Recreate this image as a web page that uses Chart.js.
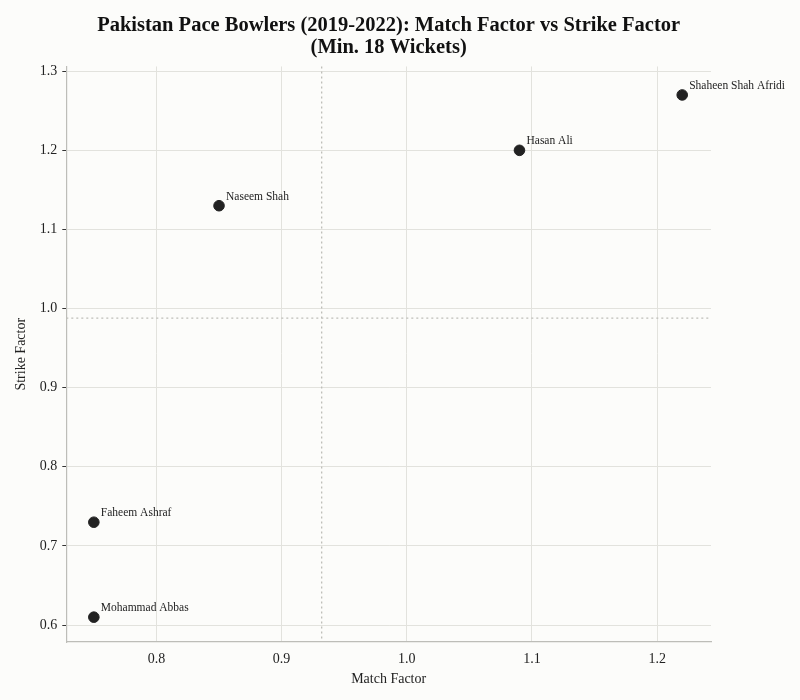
<!DOCTYPE html>
<html>
<head>
<meta charset="utf-8">
<script src="https://cdn.jsdelivr.net/npm/chart.js@4.4.1/dist/chart.umd.min.js"></script>
<style>
  body { margin: 0; background: #fcfcfa; }
  canvas { display: block; }
</style>
</head>
<body>
<canvas id="grafico" width="800" height="700"></canvas>
<script>
const jugadores = ["Shaheen Shah Afridi", "Hasan Ali", "Naseem Shah", "Faheem Ashraf", "Mohammad Abbas"];
const matchFactor = [1.22, 1.09, 0.85, 0.75, 0.75];
const strikeFactor = [1.27, 1.20, 1.13, 0.73, 0.61];
const xTicks = [0.8, 0.9, 1.0, 1.1, 1.2];
const yTicks = [0.6, 0.7, 0.8, 0.9, 1.0, 1.1, 1.2, 1.3];

const fuente = "'Liberation Serif', 'DejaVu Serif', serif";
const promedioX = matchFactor.reduce((a, b) => a + b, 0) / matchFactor.length;
const promedioY = strikeFactor.reduce((a, b) => a + b, 0) / strikeFactor.length;

// lineas punteadas de promedio y etiquetas de cada jugador
const extrasPlugin = {
  id: "extras",
  beforeDatasetsDraw(chart) {
    const { ctx, chartArea, scales } = chart;
    const px = scales.x.getPixelForValue(promedioX);
    const py = scales.y.getPixelForValue(promedioY);
    ctx.save();
    ctx.strokeStyle = "#bdbdb8";
    ctx.lineWidth = 1.3;
    ctx.setLineDash([2, 3]);
    ctx.beginPath();
    ctx.moveTo(px, chartArea.top);
    ctx.lineTo(px, chartArea.bottom);
    ctx.moveTo(chartArea.left, py);
    ctx.lineTo(chartArea.right, py);
    ctx.stroke();
    ctx.restore();
  },
  afterDatasetsDraw(chart) {
    const { ctx, scales } = chart;
    ctx.save();
    ctx.font = "11.5px " + fuente;
    ctx.fillStyle = "#222";
    ctx.textAlign = "left";
    ctx.textBaseline = "middle";
    jugadores.forEach((nombre, i) => {
      const x = scales.x.getPixelForValue(matchFactor[i]);
      const y = scales.y.getPixelForValue(strikeFactor[i]);
      ctx.fillText(nombre, x + 7, y - 9);
    });
    ctx.restore();
  }
};

const puntos = jugadores.map((n, i) => ({ x: matchFactor[i], y: strikeFactor[i] }));

new Chart(document.getElementById("grafico"), {
  type: "scatter",
  data: {
    datasets: [{
      label: "Bowlers",
      data: puntos,
      backgroundColor: "#222",
      borderColor: "#222",
      pointRadius: 5.3,
      pointHoverRadius: 5.3
    }]
  },
  options: {
    responsive: false,
    animation: false,
    layout: { padding: { left: 9, right: 89, top: 12, bottom: 14 } },
    plugins: {
      legend: { display: false },
      tooltip: { enabled: false },
      title: {
        display: true,
        fullSize: false,
        text: ["Pakistan Pace Bowlers (2019-2022): Match Factor vs Strike Factor", "(Min. 18 Wickets)"],
        color: "#111",
        font: { family: fuente, size: 20.5, weight: "bold", lineHeight: 1.06 },
        padding: { top: 3, bottom: 8 }
      }
    },
    scales: {
      x: {
        type: "linear",
        min: 0.728,
        max: 1.243,
        afterBuildTicks(axis) { axis.ticks = xTicks.map(v => ({ value: v })); },
        ticks: {
          color: "#222",
          font: { family: fuente, size: 14, lineHeight: 1 },
          padding: 10,
          callback: v => v.toFixed(1)
        },
        grid: { color: "#e2e2dd", drawTicks: false },
        border: { display: true, color: "#bdbdb8", width: 1.2 },
        title: {
          display: true,
          text: "Match Factor",
          color: "#222",
          font: { family: fuente, size: 14, lineHeight: 1 },
          padding: { top: -4, bottom: 0 }
        }
      },
      y: {
        type: "linear",
        min: 0.5786,
        max: 1.306,
        afterBuildTicks(axis) { axis.ticks = yTicks.map(v => ({ value: v })); },
        ticks: {
          color: "#222",
          font: { family: fuente, size: 14 },
          padding: 5,
          callback: v => v.toFixed(1)
        },
        grid: { color: "#e2e2dd", tickLength: 4, tickColor: "#333" },
        border: { display: true, color: "#bdbdb8", width: 1.2 },
        title: {
          display: true,
          text: "Strike Factor",
          color: "#222",
          font: { family: fuente, size: 14 },
          padding: { bottom: 5 }
        }
      }
    }
  },
  plugins: [extrasPlugin]
});
</script>
</body>
</html>
